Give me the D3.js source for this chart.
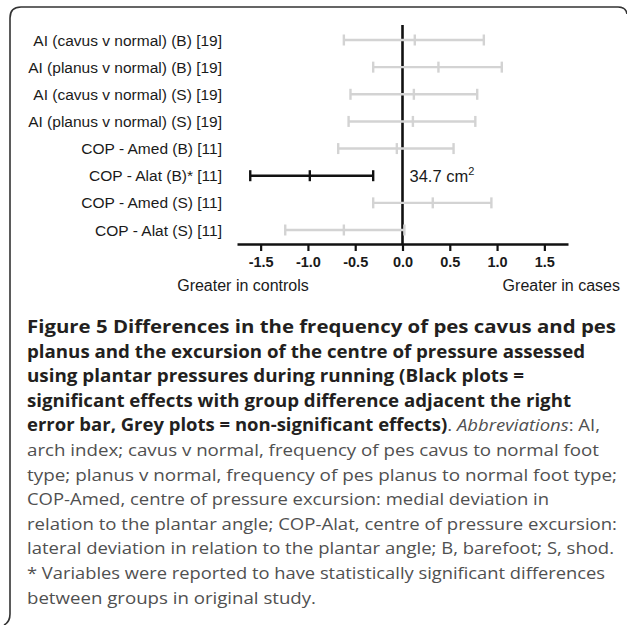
<!DOCTYPE html>
<html lang="en">
<head>
    <meta charset="UTF-8">
    <title>Figure 5</title>
    <script src="https://d3js.org/d3.v7.min.js"></script>
    <style>
        body {
            margin: 0;
            padding: 0;
            background-color: #fff;
        }
        svg {
            display: block;
        }
        .chart text {
            font-family: "Liberation Sans", Arial, sans-serif;
            fill: #1a1a1a;
        }
        .caption text {
            font-family: "Open Sans", "Noto Sans", sans-serif;
        }
    </style>
</head>
<body>
    <svg id="figure" width="627" height="625"></svg>

    <script>
        // Rows, top to bottom
        const labels = [
            "AI (cavus v normal) (B) [19]",
            "AI (planus v normal) (B) [19]",
            "AI (cavus v normal) (S) [19]",
            "AI (planus v normal) (S) [19]",
            "COP - Amed (B) [11]",
            "COP - Alat (B)* [11]",
            "COP - Amed (S) [11]",
            "COP - Alat (S) [11]"
        ];
        const means = [0.13, 0.38, 0.12, 0.11, -0.06, -0.98, 0.32, -0.62];
        const lower = [-0.62, -0.31, -0.55, -0.57, -0.68, -1.61, -0.31, -1.24];
        const upper = [0.86, 1.05, 0.79, 0.77, 0.54, -0.31, 0.94, 0.02];
        const significant = [false, false, false, false, false, true, false, false];
        const groupDiff = ["", "", "", "", "", "34.7 cm", "", ""];

        const tickValues = [-1.5, -1.0, -0.5, 0.0, 0.5, 1.0, 1.5];
        const axisLabels = ["Greater in controls", "Greater in cases"];

        // Caption, one entry per printed line; segments are [text, style]
        const captionLines = [
            [["Figure 5 Differences in the frequency of pes cavus and pes", "b"]],
            [["planus and the excursion of the centre of pressure assessed", "b"]],
            [["using plantar pressures during running (Black plots =", "b"]],
            [["significant effects with group difference adjacent the right", "b"]],
            [["error bar, Grey plots = non-significant effects)", "b"], [". ", "r"], ["Abbreviations", "i"], [": AI,", "r"]],
            [["arch index; cavus v normal, frequency of pes cavus to normal foot", "r"]],
            [["type; planus v normal, frequency of pes planus to normal foot type;", "r"]],
            [["COP-Amed, centre of pressure excursion: medial deviation in", "r"]],
            [["relation to the plantar angle; COP-Alat, centre of pressure excursion:", "r"]],
            [["lateral deviation in relation to the plantar angle; B, barefoot; S, shod.", "r"]],
            [["* Variables were reported to have statistically significant differences", "r"]],
            [["between groups in original study.", "r"]]
        ];
        const captionRight = [616, 585, 524, 571, 600, 599, 617, 549, 617, 614, 605, 316];

        const svg = d3.select("#figure");

        // frame: left bracket with rounded top corners
        svg.append("path")
            .attr("d", "M4,625 Q10,622 10,614 L10,18 Q10,7 21,7 L618,7 Q626,7 627,14")
            .attr("fill", "none")
            .attr("stroke", "#333")
            .attr("stroke-width", 1.6);

        const chart = svg.append("g").attr("class", "chart");

        const x = d3.scaleLinear().domain([-1.75, 1.75]).range([237, 568]);
        const y = d3.scalePoint().domain(labels).range([40, 230]);
        const axisY = 244;

        // axis
        const axis = chart.append("g")
            .attr("transform", `translate(0,${axisY})`)
            .call(d3.axisBottom(x)
                .tickValues(tickValues)
                .tickFormat(d => d.toFixed(1))
                .tickSize(7)
                .tickSizeOuter(0)
                .tickPadding(6));
        axis.select(".domain").attr("stroke", "#111").attr("stroke-width", 2.6);
        axis.selectAll(".tick line").attr("stroke", "#111").attr("stroke-width", 2.2);
        axis.selectAll(".tick text")
            .style("font-family", '"Liberation Sans", Arial, sans-serif')
            .attr("font-size", 14.5)
            .attr("font-weight", "bold")
            .attr("fill", "#1a1a1a");

        // zero line
        chart.append("line")
            .attr("x1", x(0)).attr("x2", x(0))
            .attr("y1", 25).attr("y2", axisY)
            .attr("stroke", "#111")
            .attr("stroke-width", 2.6);

        // row labels
        chart.selectAll(".row-label")
            .data(labels)
            .join("text")
            .attr("class", "row-label")
            .attr("x", 222)
            .attr("y", d => y(d) + 5.5)
            .attr("text-anchor", "end")
            .attr("font-size", 15.5)
            .text(d => d);

        // error bars
        const capH = 5.5;
        const rows = chart.selectAll(".row")
            .data(labels.map((l, i) => ({ label: l, mean: means[i], lo: lower[i], hi: upper[i], sig: significant[i] })))
            .join("g")
            .attr("class", "row")
            .attr("stroke", d => d.sig ? "#111" : "#d3d3d3")
            .attr("stroke-width", 2.4);

        rows.append("line")
            .attr("x1", d => x(d.lo)).attr("x2", d => x(d.hi))
            .attr("y1", d => y(d.label)).attr("y2", d => y(d.label));
        ["lo", "mean", "hi"].forEach(k => {
            rows.append("line")
                .attr("x1", d => x(d[k])).attr("x2", d => x(d[k]))
                .attr("y1", d => y(d.label) - capH).attr("y2", d => y(d.label) + capH);
        });

        // group difference next to significant bars
        labels.forEach((l, i) => {
            if (!groupDiff[i]) return;
            const t = chart.append("text")
                .attr("x", x(0) + 7)
                .attr("y", y(l) + 6)
                .attr("font-size", 16.5);
            t.append("tspan").text(groupDiff[i]);
            t.append("tspan").attr("dy", -7).attr("font-size", 11).text("2");
        });

        // direction labels
        chart.append("text")
            .attr("x", 243).attr("y", 291)
            .attr("text-anchor", "middle")
            .attr("font-size", 16)
            .text(axisLabels[0]);
        chart.append("text")
            .attr("x", 620).attr("y", 291)
            .attr("text-anchor", "end")
            .attr("font-size", 16)
            .text(axisLabels[1]);

        // caption
        const caption = svg.append("g").attr("class", "caption");
        const capLeft = 27, capTop = 333, lineH = 24.6;
        captionLines.forEach((segs, i) => {
            const t = caption.append("text")
                .attr("x", capLeft)
                .attr("y", capTop + i * lineH)
                .attr("font-size", 17)
                .attr("textLength", captionRight[i] - capLeft)
                .attr("lengthAdjust", "spacingAndGlyphs");
            segs.forEach(([txt, st]) => {
                t.append("tspan")
                    .attr("font-weight", st === "b" ? "bold" : "normal")
                    .attr("font-style", st === "i" ? "italic" : "normal")
                    .attr("fill", st === "b" ? "#231f20" : "#505050")
                    .text(txt);
            });
        });
    </script>
</body>
</html>
